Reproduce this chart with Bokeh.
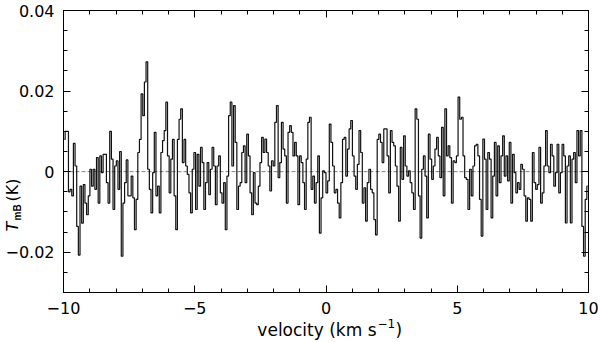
import numpy as np
from bokeh.plotting import figure
from bokeh.models import (LinearAxis, FixedTicker, CustomJSTickFormatter,
                          Label, Range1d, ColumnDataSource)
from bokeh.embed import file_html
from bokeh.resources import INLINE

# Spectrum values (mK), left to right in four stretches
seg1 = [8, 10, 10, -5, -4.4, -6, 7, 1.4, -13.6, -20.7,
        -3.6, -12.8, -3.2, -7.8, -10.7, -6, 0.6, -3.6, 0.6, -4.4,
        3.5, -7.8, 3.9, -0.25, 4.3, 4.3, -2.75, -7.8, 10, 3.1,
        -9.4, 1.4, 2.7, -4.4, 5, -21, -7.8, -2.75, 2.9, -6,
        -6, -1.1, -6.5, -14.4, -6.9, 4.75, 8, 19.3, 13.9, 22.25,
        27.25, 0.6, -4.4, -10.25, -0.25, 9.75, -6, -3.6, -10.25, 4.75,
        7.7, 10.2, 17.25, 3.9, -5.25, 3.1, 8, -6, -14.4, 8,
        13, 15.6, 2.25, 8, 1.4, -0.7, -5.25, -10.25, 0.6, 4.75]
seg2 = [-9.4, 4.3, -3.6, 6, 2.25, -9.4, -2.75, 2.25, -5.7, 0.6,
        6, 1.4, -8.2, 1.4, 3.9, -5.25, -7.8, -2.75, -14.4, -1.1,
        13.9, 17.25, 1.4, 16.4, 7.25, -9.4, -3.6, -2.75, 4.75, 6.4,
        -2.75, 9.3, 3.9, -5.25, -10.7, -0.25, -7.8, -8.2, -3.6, 2.25,
        8.5, 4.75, 8.1, 4.75, 1.4, -4.8, 2.7, 1.4, 12.25, 16.4,
        -1.5, 2.25, 12.25, 5.6, 3.9, -7.8, 9.75, 11.4, 9.75, 3.9,
        7.25, 3.9, -8.2, 3.9, 2.25, -2.75, -9.4, 3.1, 12.25, 13.5,
        -4.4, -1.1, -7.8, -2.75, 3.9, -15.25, -6.5, 0.2]
seg3 = [-0.25, -5.25, -2.3, 11.8, 7.25, 1.4, -5.25, -4.4, -7.8, -11.5,
        -2.75, 8, 8.5, -1.1, 5.6, 10.6, 12.7, 3.9, -1.1, -4.4,
        1.8, 10.2, 4.75, -7.8, -4, -12.3, -2.75, 0.6, -4.4, -5.25,
        -11.9, -15.7, 8, 9.3, 7.25, 2.25, 10.6, 10.6, 3.9, -5.25,
        10.2, 7.25, 6.4, 1.4, -3.6, -12.3, 6, -1.9, 8.9, 1.4,
        -1.1, 0.2, -2.75, -5.25, -9.4, 15.6, 13, -6, -16.5, 0.6,
        3.9, -1.1, -11.5, 9.3, 3.1, -1.9, 1.4, 5.6, 8.5, 3.9,
        -1.5, 11, -6, 15.6, 3.9, 6.4, 3.5, -7.8, 2.7]
seg4 = [2.25, 3.9, 18.5, 13, 13.5, 3.9, -1.5, -1.9, -9.4, 0.6,
        -6, 1.4, 6.4, 6.8, 3.9, -6.9, -16, 8.1, 3.1, -9.4,
        4.75, 3.1, -11.5, -1.1, 7.25, -6, 6.4, -2.75, 3.9, 8.9,
        -1.1, 3.9, -2.3, 7.25, -7.8, 4.3, -0.25, -5.25, -2.75, -4.4,
        1.8, 0.6, -6, -12.3, -6.5, -6.9, -12.3, 4.75, -2.75, -4.4,
        -3.2, 6, -7.8, -5.25, 1.4, 10.2, 1.4, -0.25, 6.8, 3.9,
        -3.6, -0.25, 6.8, -5.25, -0.25, 6.8, 3.9, -12.75, 1.4, 3.9,
        -12.75, 3.1, 4.75, -2.75, 10.2, 3.9, 10.2, -13.6, -21, -6.9,
        -3.6]

v_min, v_max = -10.0, 10.0
t_min, t_max = -0.03, 0.04
x_major = [-10, -5, 0, 5, 10]
x_minor = list(range(-10, 11))
y_major = [-0.02, 0.0, 0.02, 0.04]
y_minor = [-0.03, -0.025, -0.02, -0.015, -0.01, -0.005, 0.0, 0.005, 0.01,
           0.015, 0.02, 0.025, 0.03, 0.035, 0.04]

t_mk = seg1 + seg2 + seg3 + seg4
n = len(t_mk)
dv = (v_max - v_min) / n
velocity = v_min + dv * (np.arange(n) + 0.5)
tmb = np.array(t_mk) / 1000.0
src = ColumnDataSource(dict(v=velocity, t=tmb))

# layout (page pixels); the page is rendered with no body margin
OFF = 0
FIG_W, FIG_H = 600, 342
BOX_L, BOX_R, BOX_T, BOX_B = 63, 588, 10, 292
FONT = "DejaVu Sans"

sx = (BOX_R - BOX_L) / (v_max - v_min)
sy = (BOX_B - BOX_T) / (t_max - t_min)
x_lo = v_min - (BOX_L - OFF) / sx
x_hi = v_max + (OFF + FIG_W - BOX_R) / sx
y_hi = t_max + (BOX_T - OFF) / sy
y_lo = t_min - (OFF + FIG_H - BOX_B) / sy


def dx(px):
    return x_lo + (px - OFF) / sx


def dy(py):
    return y_hi - (py - OFF) / sy


p = figure(width=FIG_W, height=FIG_H,
           x_range=Range1d(x_lo, x_hi), y_range=Range1d(y_lo, y_hi),
           output_backend="svg", toolbar_location=None,
           x_axis_location=None, y_axis_location=None,
           min_border=0, min_border_left=0, min_border_right=0,
           min_border_top=0, min_border_bottom=0)
p.xgrid.grid_line_color = None
p.ygrid.grid_line_color = None
p.outline_line_color = None
p.background_fill_color = "white"
p.border_fill_color = "white"

xfmt = CustomJSTickFormatter(code="""
  if (tick == 0) return "0";
  return tick < 0 ? "\\u2212" + Math.abs(tick) : String(tick);
""")
yfmt = CustomJSTickFormatter(code="""
  if (Math.abs(tick) < 1e-9) return "0";
  var s = Math.abs(tick).toFixed(2);
  return tick < 0 ? "\\u2212" + s : s;
""")
blank = CustomJSTickFormatter(code='return "";')


def style(ax, standoff=0):
    ax.axis_line_color = "black"
    ax.axis_line_width = 1
    ax.major_tick_in = 7
    ax.major_tick_out = 0
    ax.minor_tick_in = 4
    ax.minor_tick_out = 0
    ax.major_tick_line_color = "black"
    ax.minor_tick_line_color = "black"
    ax.major_label_text_font = FONT
    ax.major_label_text_font_size = "16px"
    ax.major_label_text_color = "black"
    ax.major_label_standoff = standoff


for loc, fixed in [("below", t_min), ("above", t_max)]:
    ax = LinearAxis(ticker=FixedTicker(ticks=x_major, minor_ticks=x_minor),
                    formatter=xfmt if loc == "below" else blank,
                    fixed_location=fixed, bounds=(v_min, v_max))
    style(ax, 9)
    p.add_layout(ax, loc)
for loc, fixed in [("left", v_min), ("right", v_max)]:
    ax = LinearAxis(ticker=FixedTicker(ticks=y_major, minor_ticks=y_minor),
                    formatter=yfmt if loc == "left" else blank,
                    fixed_location=fixed, bounds=(t_min, t_max))
    style(ax, 9)
    p.add_layout(ax, loc)

# dashed zero level
p.segment(x0=v_min, y0=0, x1=v_max, y1=0, line_color="#808080",
          line_dash="4 2", line_width=1)
p.step(x="v", y="t", source=src, mode="center", line_color="#111111",
       line_width=1.2)


def lab(x, y, text, size, align="left", style="normal", font=FONT, angle=0.0):
    p.add_layout(Label(x=dx(x), y=dy(y), text=text, text_font=font,
                       text_font_size=size, text_align=align,
                       text_baseline="alphabetic", text_font_style=style,
                       text_color="black", angle=angle))


# x-axis title with superscript
lab(376, 329, "velocity (km s", "17px", align="right")
lab(377, 322.5, "\u22121", "12px")
lab(395, 329, ")", "17px")

# y-axis title T_mB (K), rotated
lab(11.5, 231, "T", "16px", style="italic", angle=np.pi / 2)
lab(16.5, 220, "mB", "10px", style="bold", font="Liberation Sans", angle=np.pi / 2)
lab(11.5, 201, "(K)", "16px", angle=np.pi / 2)

open("out.html", "w").write(file_html(p, INLINE))
